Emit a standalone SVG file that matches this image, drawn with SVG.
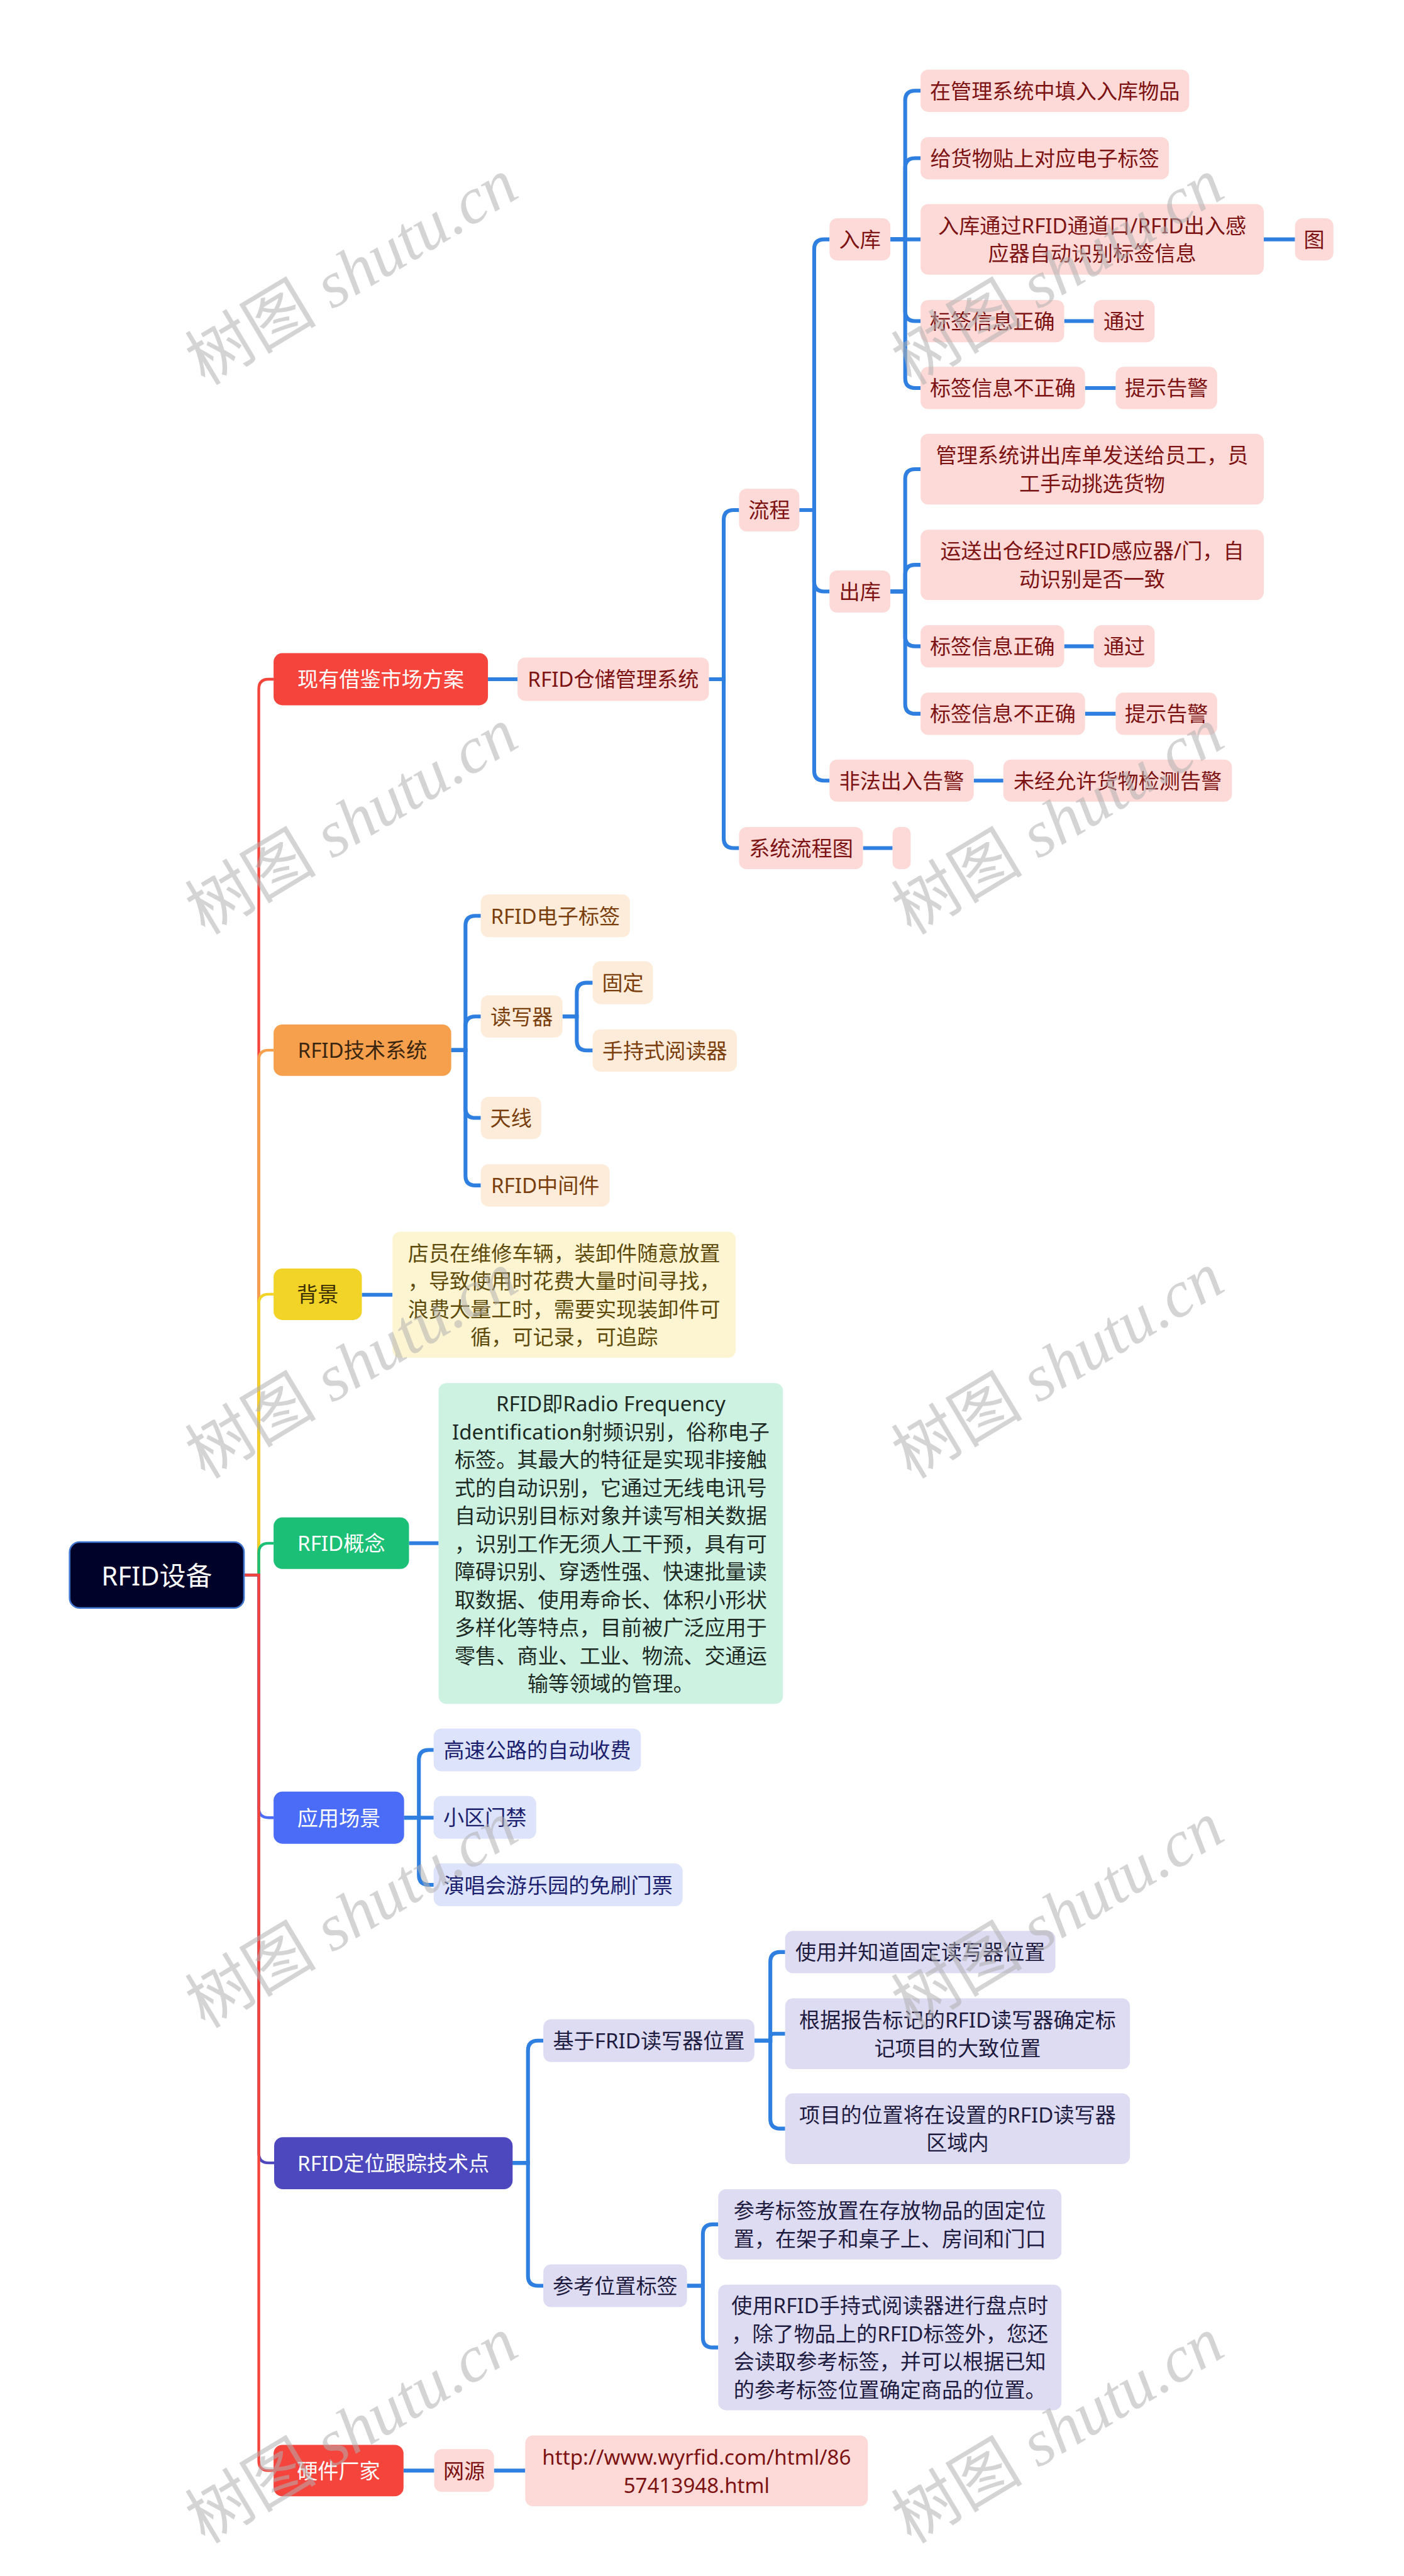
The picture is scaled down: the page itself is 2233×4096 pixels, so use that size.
<svg xmlns="http://www.w3.org/2000/svg" width="2233" height="4096" viewBox="0 0 2233 4096">
<style>
text{font-family:"Noto Sans","Noto Sans CJK SC",sans-serif;font-size:38px;text-anchor:middle;dominant-baseline:central}
.c path{fill:none;stroke-linecap:butt}
.m path{stroke-width:5}
.s path{stroke:#2f7fe0;stroke-width:7}
rect{rx:14px}
.L1{rx:16px}
rect.pk{fill:#fdd9d7} text.pk{fill:#7c1212}
rect.or{fill:#fdecd9} text.or{fill:#7a3e0c}
rect.ye{fill:#fdf5d1} text.ye{fill:#5e4b0c}
rect.gr{fill:#cdf2e2} text.gr{fill:#1d2a24}
rect.bl{fill:#dde3fb} text.bl{fill:#1b1f6e}
rect.pu{fill:#dedcf2} text.pu{fill:#1e1b40}
text.w{fill:#ffffff}
.wm text{font-family:"Liberation Serif","Noto Sans CJK SC",serif;font-size:120px;fill:#b0b0b0;fill-opacity:0.55;text-anchor:start;dominant-baseline:auto}
</style>
<rect width="2233" height="4096" fill="#ffffff" rx="0"/>
<g transform="scale(0.872)">
<g id="connectors" class="c">
<g class="m">
<path stroke="#f5443c" d="M445,2872 H472 V1256.5 Q472,1238.5 490,1238.5 H499"/>
<path stroke="#f6a04d" d="M445,2872 H472 V1933 Q472,1915 490,1915 H499"/>
<path stroke="#f2d327" d="M445,2872 H472 V2378 Q472,2360 490,2360 H499"/>
<path stroke="#1bbf76" d="M445,2872 H472 V2832 Q472,2814 490,2814 H499"/>
<path stroke="#4a6cf6" d="M445,2872 H472 V3296.5 Q472,3314.5 490,3314.5 H499"/>
<path stroke="#4e48be" d="M445,2872 H472 V3926 Q472,3944 490,3944 H500"/>
<path stroke="#f5443c" d="M445,2872 H472 V4487 Q472,4505 490,4505 H499"/>
</g>
<g class="s">
<path d="M890,1238.5 H944"/>
<path d="M1293,1238.5 H1320 V948 Q1320,930 1338,930 H1348"/>
<path d="M1293,1238.5 H1320 V1528.5 Q1320,1546.5 1338,1546.5 H1348"/>
<path d="M1458,930 H1485 V454.5 Q1485,436.5 1503,436.5 H1513"/>
<path d="M1458,930 H1485 V1060.5 Q1485,1078.5 1503,1078.5 H1513"/>
<path d="M1458,930 H1485 V1405.5 Q1485,1423.5 1503,1423.5 H1513"/>
<path d="M1624,436.5 H1651 V183.5 Q1651,165.5 1669,165.5 H1679"/>
<path d="M1624,436.5 H1651 V306.5 Q1651,288.5 1669,288.5 H1679"/>
<path d="M1624,436.5 H1679"/>
<path d="M1624,436.5 H1651 V567.5 Q1651,585.5 1669,585.5 H1679"/>
<path d="M1624,436.5 H1651 V689.5 Q1651,707.5 1669,707.5 H1679"/>
<path d="M2305,436.5 H2362"/>
<path d="M1941,585.5 H1995"/>
<path d="M1979,707.5 H2035"/>
<path d="M1624,1078.5 H1651 V873.5 Q1651,855.5 1669,855.5 H1679"/>
<path d="M1624,1078.5 H1651 V1048 Q1651,1030 1669,1030 H1679"/>
<path d="M1624,1078.5 H1651 V1160.5 Q1651,1178.5 1669,1178.5 H1679"/>
<path d="M1624,1078.5 H1651 V1283.5 Q1651,1301.5 1669,1301.5 H1679"/>
<path d="M1941,1178.5 H1995"/>
<path d="M1979,1301.5 H2035"/>
<path d="M1776,1423.5 H1830"/>
<path d="M1574,1546.5 H1628"/>
<path d="M823,1915 H849 V1688 Q849,1670 867,1670 H877"/>
<path d="M823,1915 H849 V1871.5 Q849,1853.5 867,1853.5 H877"/>
<path d="M823,1915 H849 V2020.5 Q849,2038.5 867,2038.5 H877"/>
<path d="M823,1915 H849 V2143.5 Q849,2161.5 867,2161.5 H877"/>
<path d="M1026,1853.5 H1052 V1810 Q1052,1792 1070,1792 H1081"/>
<path d="M1026,1853.5 H1052 V1897.5 Q1052,1915.5 1070,1915.5 H1081"/>
<path d="M660,2361 H716"/>
<path d="M746,2814 H800"/>
<path d="M737,3314.5 H764 V3209 Q764,3191 782,3191 H791"/>
<path d="M737,3314.5 H791"/>
<path d="M737,3314.5 H764 V3419 Q764,3437 782,3437 H791"/>
<path d="M935,3944 H963 V3739 Q963,3721 981,3721 H991"/>
<path d="M935,3944 H963 V4150 Q963,4168 981,4168 H991"/>
<path d="M1376,3721 H1405 V3577.5 Q1405,3559.5 1423,3559.5 H1432"/>
<path d="M1376,3721 H1405 V3714.5 Q1405,3708.5 1411,3708.5 H1432"/>
<path d="M1376,3721 H1405 V3863.5 Q1405,3881.5 1423,3881.5 H1432"/>
<path d="M1253,4168 H1282 V4074 Q1282,4056 1300,4056 H1310"/>
<path d="M1253,4168 H1282 V4262.5 Q1282,4280.5 1300,4280.5 H1310"/>
<path d="M736,4505 H792"/>
<path d="M901,4505 H958"/>
</g>
</g>

<g id="root"><rect x="127" y="2812" width="318" height="120" style="rx:18px" fill="#000229" stroke="#3f76d0" stroke-width="3"/><text x="286" y="2872" class="w" style="font-size:48px">RFID设备</text></g>

<g id="n1"><rect class="L1" x="499" y="1191" width="391" height="95" fill="#f5443c"/><text class="w" x="694.5" y="1238.5">现有借鉴市场方案</text></g>
<g id="n2"><rect class="L1" x="499" y="1868" width="324" height="94" fill="#f6a04d"/><text x="661" y="1915" fill="#3a2510">RFID技术系统</text></g>
<g id="n3"><rect class="L1" x="499" y="2313" width="161" height="94" fill="#f2d327"/><text x="579.5" y="2360" fill="#3a3000">背景</text></g>
<g id="n4"><rect class="L1" x="499" y="2767" width="247" height="94" fill="#1bbf76"/><text class="w" x="622.5" y="2814">RFID概念</text></g>
<g id="n5"><rect class="L1" x="499" y="3267" width="238" height="95" fill="#4a6cf6"/><text class="w" x="618" y="3314.5">应用场景</text></g>
<g id="n6"><rect class="L1" x="500" y="3897" width="435" height="95" fill="#4e48be"/><text class="w" x="717.5" y="3944.5">RFID定位跟踪技术点</text></g>
<g id="n7"><rect class="L1" x="499" y="4458" width="237" height="94" fill="#f5443c"/><text class="w" x="617.5" y="4505">硬件厂家</text></g>

<g id="p1"><rect class="pk" x="944" y="1199" width="349" height="79"/><text class="pk" x="1118.5" y="1238.5">RFID仓储管理系统</text></g>
<g id="p2"><rect class="pk" x="1348" y="891" width="110" height="78"/><text class="pk" x="1403" y="930">流程</text></g>
<g id="p3"><rect class="pk" x="1348" y="1508" width="226" height="77"/><text class="pk" x="1461" y="1546.5">系统流程图</text></g>
<g id="p3e"><rect class="pk" x="1628" y="1508" width="33" height="77" style="rx:12px"/></g>
<g id="p4"><rect class="pk" x="1513" y="398" width="111" height="77"/><text class="pk" x="1568.5" y="436.5">入库</text></g>
<g id="p5"><rect class="pk" x="1513" y="1040" width="111" height="77"/><text class="pk" x="1568.5" y="1078.5">出库</text></g>
<g id="p6"><rect class="pk" x="1513" y="1385" width="263" height="77"/><text class="pk" x="1644.5" y="1423.5">非法出入告警</text></g>
<g id="p7"><rect class="pk" x="1830" y="1385" width="417" height="77"/><text class="pk" x="2038.5" y="1423.5">未经允许货物检测告警</text></g>

<g id="r1"><rect class="pk" x="1679" y="127" width="490" height="77"/><text class="pk" x="1924" y="165.5">在管理系统中填入入库物品</text></g>
<g id="r2"><rect class="pk" x="1679" y="250" width="453" height="77"/><text class="pk" x="1905.5" y="288.5">给货物贴上对应电子标签</text></g>
<g id="r3"><rect class="pk" x="1679" y="372" width="626" height="129"/><text class="pk" x="1992" y="411">入库通过RFID通道口/RFID出入感</text><text class="pk" x="1992" y="462">应器自动识别标签信息</text></g>
<g id="r4"><rect class="pk" x="2362" y="398" width="70" height="77"/><text class="pk" x="2397" y="436.5">图</text></g>
<g id="r5"><rect class="pk" x="1679" y="547" width="262" height="77"/><text class="pk" x="1810" y="585.5">标签信息正确</text></g>
<g id="r6"><rect class="pk" x="1995" y="547" width="111" height="77"/><text class="pk" x="2050.5" y="585.5">通过</text></g>
<g id="r7"><rect class="pk" x="1679" y="669" width="300" height="77"/><text class="pk" x="1829" y="707.5">标签信息不正确</text></g>
<g id="r8"><rect class="pk" x="2035" y="669" width="185" height="77"/><text class="pk" x="2127.5" y="707.5">提示告警</text></g>

<g id="o1"><rect class="pk" x="1679" y="791" width="626" height="129"/><text class="pk" x="1992" y="830">管理系统讲出库单发送给员工，员</text><text class="pk" x="1992" y="881">工手动挑选货物</text></g>
<g id="o2"><rect class="pk" x="1679" y="966" width="626" height="128"/><text class="pk" x="1992" y="1004.5">运送出仓经过RFID感应器/门，自</text><text class="pk" x="1992" y="1055.5">动识别是否一致</text></g>
<g id="o3"><rect class="pk" x="1679" y="1140" width="262" height="77"/><text class="pk" x="1810" y="1178.5">标签信息正确</text></g>
<g id="o4"><rect class="pk" x="1995" y="1140" width="111" height="77"/><text class="pk" x="2050.5" y="1178.5">通过</text></g>
<g id="o5"><rect class="pk" x="1679" y="1263" width="300" height="77"/><text class="pk" x="1829" y="1301.5">标签信息不正确</text></g>
<g id="o6"><rect class="pk" x="2035" y="1263" width="185" height="77"/><text class="pk" x="2127.5" y="1301.5">提示告警</text></g>

<g id="t1"><rect class="or" x="877" y="1631" width="272" height="78"/><text class="or" x="1013" y="1670">RFID电子标签</text></g>
<g id="t2"><rect class="or" x="877" y="1815" width="149" height="77"/><text class="or" x="951.5" y="1853.5">读写器</text></g>
<g id="t3"><rect class="or" x="1081" y="1753" width="110" height="78"/><text class="or" x="1136" y="1792">固定</text></g>
<g id="t4"><rect class="or" x="1081" y="1877" width="263" height="77"/><text class="or" x="1212.5" y="1915.5">手持式阅读器</text></g>
<g id="t5"><rect class="or" x="877" y="2000" width="110" height="77"/><text class="or" x="932" y="2038.5">天线</text></g>
<g id="t6"><rect class="or" x="877" y="2123" width="235" height="77"/><text class="or" x="994.5" y="2161.5">RFID中间件</text></g>

<g id="y1"><rect class="ye" x="716" y="2246" width="626" height="230"/>
<text class="ye" x="1029" y="2284.5">店员在维修车辆，装卸件随意放置</text>
<text class="ye" x="1029" y="2335.5">，导致使用时花费大量时间寻找，</text>
<text class="ye" x="1029" y="2386.5">浪费大量工时，需要实现装卸件可</text>
<text class="ye" x="1029" y="2437.5">循，可记录，可追踪</text></g>

<g id="g1"><rect class="gr" x="800" y="2522" width="628" height="585"/>
<text class="gr" x="1114" y="2559.5">RFID即Radio Frequency</text>
<text class="gr" x="1114" y="2610.5">Identification射频识别，俗称电子</text>
<text class="gr" x="1114" y="2661.5">标签。其最大的特征是实现非接触</text>
<text class="gr" x="1114" y="2712.5">式的自动识别，它通过无线电讯号</text>
<text class="gr" x="1114" y="2763.5">自动识别目标对象并读写相关数据</text>
<text class="gr" x="1114" y="2814.5">，识别工作无须人工干预，具有可</text>
<text class="gr" x="1114" y="2865.5">障碍识别、穿透性强、快速批量读</text>
<text class="gr" x="1114" y="2916.5">取数据、使用寿命长、体积小形状</text>
<text class="gr" x="1114" y="2967.5">多样化等特点，目前被广泛应用于</text>
<text class="gr" x="1114" y="3018.5">零售、商业、工业、物流、交通运</text>
<text class="gr" x="1114" y="3069.5">输等领域的管理。</text></g>

<g id="b1"><rect class="bl" x="791" y="3152" width="378" height="78"/><text class="bl" x="980" y="3191">高速公路的自动收费</text></g>
<g id="b2"><rect class="bl" x="791" y="3275" width="187" height="78"/><text class="bl" x="884.5" y="3314">小区门禁</text></g>
<g id="b3"><rect class="bl" x="791" y="3398" width="454" height="78"/><text class="bl" x="1018" y="3437">演唱会游乐园的免刷门票</text></g>

<g id="u1"><rect class="pu" x="991" y="3682" width="385" height="78"/><text class="pu" x="1183.5" y="3721">基于FRID读写器位置</text></g>
<g id="u2"><rect class="pu" x="991" y="4129" width="262" height="78"/><text class="pu" x="1122" y="4168">参考位置标签</text></g>
<g id="u3"><rect class="pu" x="1432" y="3521" width="493" height="77"/><text class="pu" x="1678.5" y="3559.5">使用并知道固定读写器位置</text></g>
<g id="u4"><rect class="pu" x="1432" y="3644" width="629" height="129"/><text class="pu" x="1746.5" y="3683">根据报告标记的RFID读写器确定标</text><text class="pu" x="1746.5" y="3734">记项目的大致位置</text></g>
<g id="u5"><rect class="pu" x="1432" y="3817" width="629" height="129"/><text class="pu" x="1746.5" y="3856">项目的位置将在设置的RFID读写器</text><text class="pu" x="1746.5" y="3907">区域内</text></g>
<g id="u6"><rect class="pu" x="1310" y="3992" width="626" height="128"/><text class="pu" x="1623" y="4030.5">参考标签放置在存放物品的固定位</text><text class="pu" x="1623" y="4081.5">置，在架子和桌子上、房间和门口</text></g>
<g id="u7"><rect class="pu" x="1310" y="4166" width="626" height="229"/>
<text class="pu" x="1623" y="4204">使用RFID手持式阅读器进行盘点时</text>
<text class="pu" x="1623" y="4255">，除了物品上的RFID标签外，您还</text>
<text class="pu" x="1623" y="4306">会读取参考标签，并可以根据已知</text>
<text class="pu" x="1623" y="4357">的参考标签位置确定商品的位置。</text></g>

<g id="h1"><rect class="pk" x="792" y="4466" width="109" height="78"/><text class="pk" x="846.5" y="4505">网源</text></g>
<g id="h2"><rect class="pk" x="958" y="4441" width="625" height="129"/><text class="pk" x="1270.5" y="4480">http://www.wyrfid.com/html/86</text><text class="pk" x="1270.5" y="4531">57413948.html</text></g>

<g class="wm">
<text x="374" y="704" transform="rotate(-31 374 704)">树图 <tspan font-style="italic">shutu.cn</tspan></text>
<text x="1662" y="704" transform="rotate(-31 1662 704)">树图 <tspan font-style="italic">shutu.cn</tspan></text>
<text x="374" y="1706" transform="rotate(-31 374 1706)">树图 <tspan font-style="italic">shutu.cn</tspan></text>
<text x="1662" y="1706" transform="rotate(-31 1662 1706)">树图 <tspan font-style="italic">shutu.cn</tspan></text>
<text x="374" y="2698" transform="rotate(-31 374 2698)">树图 <tspan font-style="italic">shutu.cn</tspan></text>
<text x="1662" y="2698" transform="rotate(-31 1662 2698)">树图 <tspan font-style="italic">shutu.cn</tspan></text>
<text x="374" y="3700" transform="rotate(-31 374 3700)">树图 <tspan font-style="italic">shutu.cn</tspan></text>
<text x="1662" y="3700" transform="rotate(-31 1662 3700)">树图 <tspan font-style="italic">shutu.cn</tspan></text>
<text x="374" y="4640" transform="rotate(-31 374 4640)">树图 <tspan font-style="italic">shutu.cn</tspan></text>
<text x="1662" y="4640" transform="rotate(-31 1662 4640)">树图 <tspan font-style="italic">shutu.cn</tspan></text>
</g>
</g>
</svg>
